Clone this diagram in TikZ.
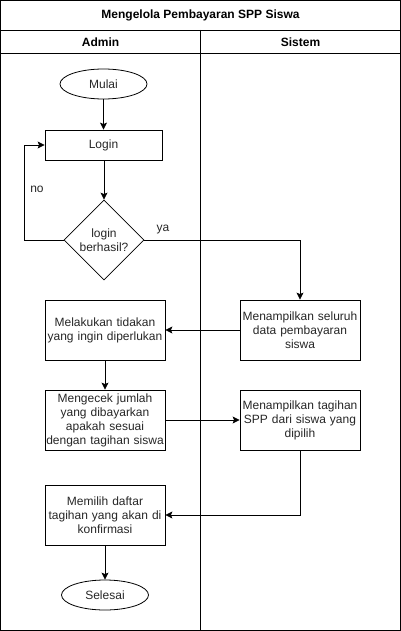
\documentclass[tikz,border=0pt]{standalone}
\usepackage{fontspec}
\setmainfont{Liberation Sans}
\usetikzlibrary{shapes.geometric,arrows.meta}
\begin{document}
\begin{tikzpicture}[x=1pt,y=-1pt,
  every node/.style={font=\fontsize{12}{14}\selectfont, text=black!85},
  proc/.style={draw, line width=0.8pt, minimum width=120pt, minimum height=60pt, align=center, inner sep=1pt, text width=118pt},
  term/.style={draw, ellipse, line width=0.8pt, minimum width=87pt, minimum height=30pt, inner sep=0pt},
  dec/.style={draw, diamond, line width=0.8pt, minimum width=80pt, minimum height=80pt, inner sep=0pt, align=center},
  conn/.style={draw, line width=0.8pt, -{Stealth[length=7pt,width=7pt,inset=1.5pt]}},
  lane/.style={draw, line width=0.8pt},
  lbl/.style={font=\fontsize{12}{14}\selectfont\bfseries, text=black}
]
\useasboundingbox (0,0) rectangle (401,631);
% frame
\draw[lane] (0.5,0.5) rectangle (400.5,630.5);
\draw[lane] (0.5,30) -- (400.5,30);
\draw[lane] (0.5,53) -- (400.5,53);
\draw[lane] (200.5,30) -- (200.5,630.5);
\node[lbl] (title) at (200.5,15) {Mengelola Pembayaran SPP Siswa};
\node[lbl] (admin) at (100.5,42) {Admin};
\node[lbl] (sistem) at (300.5,42) {Sistem};
% nodes
\node[term] (mulai) at (103.5,84) {Mulai};
\node[proc, minimum width=117pt, text width=115pt, minimum height=30pt] (login) at (103.5,145) {Login};
\node[dec] (dec) at (104,240) {login\\berhasil?};
\node[proc] (sel) at (300,330) {Menampilkan seluruh\\data pembayaran\\siswa};
\node[proc] (mel) at (105,330) {Melakukan tidakan\\yang ingin diperlukan};
\node[proc] (cek) at (105,420) {Mengecek jumlah\\yang dibayarkan\\apakah sesuai\\dengan tagihan siswa};
\node[proc] (tag) at (300,420) {Menampilkan tagihan\\SPP dari siswa yang\\dipilih};
\node[proc] (pil) at (105,515) {Memilih daftar\\tagihan yang akan di\\konfirmasi};
\node[term] (selesai) at (105,595) {Selesai};
% labels
\node (no) at (37,189) {no};
\node (ya) at (163,230) {ya};
% connectors
\draw[conn] (mulai) -- (login);
\draw[conn] (login.south -| dec.north) -- (dec.north);
\draw[conn] (dec.west) -- (24,240) -- (24,145) -- (login.west);
\draw[conn] (dec.east) -- (sel.north |- dec.east) -- (sel.north);
\draw[conn] (sel.west) -- (mel.east);
\draw[conn] (mel) -- (cek);
\draw[conn] (cek.east) -- (tag.west);
\draw[conn] (tag.south) -- (tag.south |- pil.east) -- (pil.east);
\draw[conn] (pil) -- (selesai);
\end{tikzpicture}
\end{document}
